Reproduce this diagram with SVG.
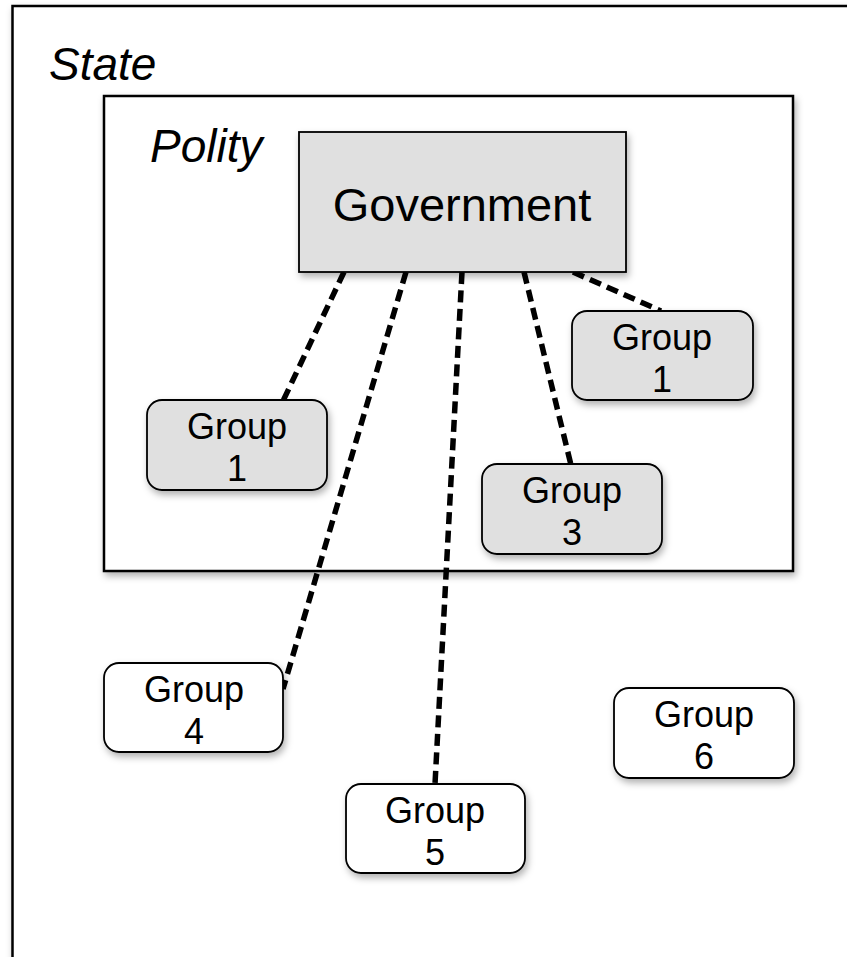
<svg xmlns="http://www.w3.org/2000/svg" width="847" height="957" viewBox="0 0 847 957">
  <defs>
    <filter id="sh" x="-20%" y="-20%" width="150%" height="160%">
      <feDropShadow dx="2" dy="4" stdDeviation="3.5" flood-color="#000" flood-opacity="0.3"/>
    </filter>
    <style>
      .frame { fill: #ffffff; stroke: #000; stroke-width: 2.5; }
      .gov { fill: #e0e0e0; stroke: #000; stroke-width: 1.8; }
      .grp-in { fill: #e0e0e0; stroke: #000; stroke-width: 1.8; }
      .grp-out { fill: #ffffff; stroke: #000; stroke-width: 1.8; }
      .lbl { font-family: "Liberation Sans", Arial, sans-serif; font-style: italic; font-size: 46px; fill: #000; }
      .gt { font-family: "Liberation Sans", Arial, sans-serif; font-size: 36px; fill: #000; text-anchor: middle; }
      .govt { font-family: "Liberation Sans", Arial, sans-serif; font-size: 47px; fill: #000; text-anchor: middle; }
      .conn { stroke: #000; stroke-width: 5.5; stroke-dasharray: 12 6.5; fill: none; }
    </style>
  </defs>
  <rect width="847" height="957" fill="#ffffff"/>

  <g id="state">
    <rect class="frame" x="12.5" y="6" width="900" height="1000" filter="url(#sh)"/>
    <text class="lbl" x="49" y="80">State</text>
  </g>

  <g id="polity">
    <rect class="frame" x="104" y="96" width="689" height="475" filter="url(#sh)"/>
    <text class="lbl" x="150" y="162">Polity</text>
  </g>

  <g id="connectors">
    <line class="conn" x1="344" y1="272" x2="283" y2="401"/>
    <line class="conn" x1="406" y1="272" x2="283" y2="689"/>
    <line class="conn" x1="462" y1="272" x2="435" y2="784"/>
    <line class="conn" x1="524" y1="272" x2="571" y2="465"/>
    <line class="conn" x1="573" y1="272" x2="661" y2="311"/>
  </g>

  <g id="government">
    <rect class="gov" x="299" y="132" width="327" height="140" filter="url(#sh)"/>
    <text class="govt" x="462" y="221">Government</text>
  </g>

  <g id="group1-left">
    <rect class="grp-in" x="147" y="400" width="180" height="90" rx="15" filter="url(#sh)"/>
    <text class="gt" x="237" y="439">Group</text>
    <text class="gt" x="237" y="481">1</text>
  </g>

  <g id="group1-right">
    <rect class="grp-in" x="572" y="311" width="181" height="89" rx="15" filter="url(#sh)"/>
    <text class="gt" x="662" y="350">Group</text>
    <text class="gt" x="662" y="392">1</text>
  </g>

  <g id="group3">
    <rect class="grp-in" x="482" y="464" width="180" height="90" rx="15" filter="url(#sh)"/>
    <text class="gt" x="572" y="503">Group</text>
    <text class="gt" x="572" y="545">3</text>
  </g>

  <g id="group4">
    <rect class="grp-out" x="104" y="663" width="179" height="89" rx="15" filter="url(#sh)"/>
    <text class="gt" x="194" y="702">Group</text>
    <text class="gt" x="194" y="744">4</text>
  </g>

  <g id="group5">
    <rect class="grp-out" x="346" y="784" width="179" height="89" rx="15" filter="url(#sh)"/>
    <text class="gt" x="435" y="823">Group</text>
    <text class="gt" x="435" y="865">5</text>
  </g>

  <g id="group6">
    <rect class="grp-out" x="614" y="688" width="180" height="90" rx="15" filter="url(#sh)"/>
    <text class="gt" x="704" y="727">Group</text>
    <text class="gt" x="704" y="769">6</text>
  </g>
</svg>
